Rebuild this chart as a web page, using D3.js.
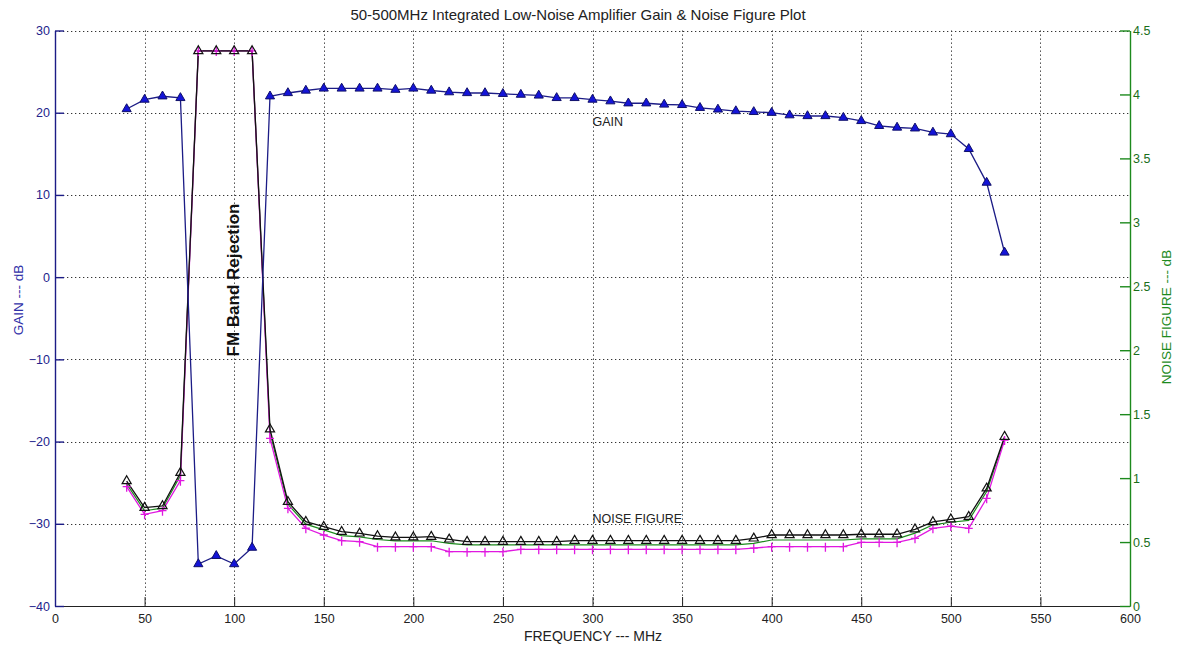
<!DOCTYPE html>
<html>
<head>
<meta charset="utf-8">
<script src="https://cdn.jsdelivr.net/npm/d3@7"></script>
<style>
  html, body { margin: 0; padding: 0; background: #fff; }
  svg { display: block; font-family: "Liberation Sans", Arial, sans-serif; }
</style>
</head>
<body>
<svg id="chart" width="1180" height="649"></svg>
<script>
// ---- data ----
const freqMHz = [40, 50, 60, 70, 80, 90, 100, 110, 120, 130, 140, 150, 160, 170, 180, 190, 200, 210, 220, 230,
  240, 250, 260, 270, 280, 290, 300, 310, 320, 330, 340, 350, 360, 370, 380, 390, 400, 410, 420, 430,
  440, 450, 460, 470, 480, 490, 500, 510, 520, 530];

const gainDb = [20.45, 21.6, 22.0, 21.8, -34.9, -33.9, -34.9, -32.9, 22.0, 22.4, 22.7, 22.95, 22.95, 22.95, 22.95, 22.8, 22.95, 22.7, 22.5, 22.4,
  22.4, 22.3, 22.2, 22.1, 21.8, 21.8, 21.6, 21.4, 21.15, 21.15, 21.0, 20.95, 20.6, 20.4, 20.2, 20.1, 20.0, 19.7, 19.6, 19.6,
  19.4, 19.0, 18.4, 18.2, 18.1, 17.6, 17.4, 15.6, 11.5, 3.0];

const nfBlack = [0.977, 0.769, 0.782, 1.042, 4.34, 4.34, 4.34, 4.34, 1.382, 0.815, 0.659, 0.620, 0.581, 0.568, 0.547, 0.537, 0.537, 0.542, 0.521, 0.503,
  0.503, 0.503, 0.503, 0.503, 0.503, 0.511, 0.511, 0.511, 0.511, 0.511, 0.511, 0.511, 0.511, 0.511, 0.511, 0.529, 0.555, 0.555, 0.555, 0.555,
  0.555, 0.561, 0.561, 0.561, 0.600, 0.657, 0.678, 0.698, 0.920, 1.324];

const nfGreen = [0.955, 0.745, 0.765, 1.02, 4.34, 4.34, 4.34, 4.34, 1.355, 0.795, 0.64, 0.595, 0.55, 0.54, 0.52, 0.51, 0.51, 0.51, 0.49, 0.478,
  0.478, 0.478, 0.478, 0.478, 0.478, 0.478, 0.478, 0.478, 0.478, 0.478, 0.478, 0.478, 0.478, 0.478, 0.478, 0.49, 0.516, 0.516, 0.516, 0.516,
  0.516, 0.525, 0.525, 0.525, 0.57, 0.635, 0.655, 0.67, 0.895, 1.31];

const nfMagenta = [0.933, 0.717, 0.745, 0.980, 4.34, 4.34, 4.34, 4.34, 1.311, 0.764, 0.608, 0.555, 0.511, 0.503, 0.464, 0.464, 0.464, 0.464, 0.425, 0.425,
  0.425, 0.425, 0.443, 0.443, 0.443, 0.443, 0.443, 0.443, 0.443, 0.443, 0.443, 0.443, 0.443, 0.443, 0.443, 0.453, 0.464, 0.464, 0.464, 0.464,
  0.464, 0.498, 0.498, 0.498, 0.529, 0.607, 0.625, 0.607, 0.842, 1.298];

const xTicks = [0, 50, 100, 150, 200, 250, 300, 350, 400, 450, 500, 550, 600];
const gainTicks = [-40, -30, -20, -10, 0, 10, 20, 30];
const nfTicks = [0, 0.5, 1, 1.5, 2, 2.5, 3, 3.5, 4, 4.5];

const titleText = "50-500MHz Integrated Low-Noise Amplifier Gain & Noise Figure Plot";
const xLabel = "FREQUENCY --- MHz";
const yLeftLabel = "GAIN --- dB";
const yRightLabel = "NOISE FIGURE --- dB";
const gainNote = "GAIN";
const nfNote = "NOISE FIGURE";
const fmNote = "FM Band Rejection";

// ---- layout ----
const L = 55, R = 1130, T = 30.5, B = 606;
const svg = d3.select("#chart");

const x = d3.scaleLinear().domain([0, 600]).range([L, R]);
const yL = d3.scaleLinear().domain([-40, 30]).range([B, T]);
const yR = d3.scaleLinear().domain([0, 4.5]).range([B, T]);

const cBlue = "#1c1c86", cBlueFill = "#1414d8", cGreen = "#1d8a1d", cMag = "#e018e0";

// grid
const grid = svg.append("g").attr("stroke", "#333").attr("stroke-width", 1)
  .attr("stroke-dasharray", "1.3,2.7");
xTicks.filter(t => t > 0 && t < 600).forEach(t => {
  grid.append("line").attr("x1", Math.round(x(t)) + 0.5).attr("x2", Math.round(x(t)) + 0.5)
    .attr("y1", T).attr("y2", B);
});
gainTicks.filter(t => t > -40).forEach(t => {
  grid.append("line").attr("x1", L).attr("x2", R)
    .attr("y1", Math.round(yL(t)) + 0.5).attr("y2", Math.round(yL(t)) + 0.5);
});

// axes
const axB = svg.append("g").attr("transform", `translate(0,${B})`)
  .call(d3.axisBottom(x).tickValues(xTicks).tickSizeInner(-9).tickSizeOuter(0).tickPadding(8));
axB.selectAll("path,line").attr("stroke", "#222");
axB.selectAll("text").attr("fill", "#222").attr("font-size", 12.5).attr("font-family", "Liberation Sans, Arial, sans-serif");

const axL = svg.append("g").attr("transform", `translate(${L},0)`)
  .call(d3.axisLeft(yL).tickValues(gainTicks).tickSizeInner(-9).tickSizeOuter(0).tickPadding(5));
axL.selectAll("path,line").attr("stroke", cBlue).attr("stroke-width", 1.4);
axL.selectAll("text").attr("fill", "#23238c").attr("font-size", 12.5).attr("font-family", "Liberation Sans, Arial, sans-serif");

const axR = svg.append("g").attr("transform", `translate(${R},0)`)
  .call(d3.axisRight(yR).tickValues(nfTicks).tickSizeInner(-10).tickSizeOuter(0).tickPadding(3)
    .tickFormat(d => String(d)));
axR.selectAll("path,line").attr("stroke", cGreen).attr("stroke-width", 1.4);
axR.selectAll("text").attr("fill", "#1a6e1a").attr("font-size", 12.5).attr("font-family", "Liberation Sans, Arial, sans-serif");

// series
const gainPts = freqMHz.map((f, i) => [x(f), yL(gainDb[i])]);
const blackPts = freqMHz.map((f, i) => [x(f), yR(nfBlack[i])]);
const greenPts = freqMHz.map((f, i) => [x(f), yR(nfGreen[i])]);
const magPts = freqMHz.map((f, i) => [x(f), yR(nfMagenta[i])]);
const line = d3.line();

svg.append("path").attr("d", line(greenPts)).attr("fill", "none").attr("stroke", cGreen).attr("stroke-width", 1.2);
svg.append("path").attr("d", line(magPts)).attr("fill", "none").attr("stroke", cMag).attr("stroke-width", 1.3);
svg.append("path").attr("d", line(blackPts)).attr("fill", "none").attr("stroke", "#111").attr("stroke-width", 1.3);
svg.append("path").attr("d", line(gainPts)).attr("fill", "none").attr("stroke", cBlue).attr("stroke-width", 1.3);

const tri = d3.symbol().type(d3.symbolTriangle).size(36);

// magenta plus markers
svg.append("g").selectAll("path").data(magPts).join("path")
  .attr("d", d => `M${d[0] - 4},${d[1]}H${d[0] + 4}M${d[0]},${d[1] - 4}V${d[1] + 5}`)
  .attr("stroke", cMag).attr("stroke-width", 1.3).attr("fill", "none");

// black open triangles
svg.append("g").selectAll("path").data(blackPts).join("path")
  .attr("transform", d => `translate(${d[0]},${d[1]})`)
  .attr("d", tri).attr("fill", "none").attr("stroke", "#111").attr("stroke-width", 1.2);

// gain filled triangles
svg.append("g").selectAll("path").data(gainPts).join("path")
  .attr("transform", d => `translate(${d[0]},${d[1]})`)
  .attr("d", tri).attr("fill", cBlueFill).attr("stroke", "#10106a").attr("stroke-width", 1);

// texts
svg.append("text").attr("x", 578).attr("y", 20).attr("text-anchor", "middle")
  .attr("font-size", 15).attr("fill", "#222").text(titleText);
svg.append("text").attr("x", 593).attr("y", 641).attr("text-anchor", "middle")
  .attr("font-size", 14).attr("fill", "#222").text(xLabel);
svg.append("text").attr("transform", "translate(23,300) rotate(-90)").attr("text-anchor", "middle")
  .attr("font-size", 13.5).attr("fill", "#3030a8").text(yLeftLabel);
svg.append("text").attr("transform", "translate(1171,317) rotate(-90)").attr("text-anchor", "middle")
  .attr("font-size", 13.5).attr("fill", "#1d8a1d").text(yRightLabel);
svg.append("text").attr("x", x(300)).attr("y", 126).attr("font-size", 12.5).attr("fill", "#222").text(gainNote);
svg.append("text").attr("x", x(300)).attr("y", 523).attr("font-size", 12.5).attr("fill", "#222").text(nfNote);
svg.append("text").attr("transform", `translate(${x(100) + 5},280) rotate(-90)`).attr("text-anchor", "middle")
  .attr("font-size", 17).attr("font-weight", "bold").attr("fill", "#111").text(fmNote);
</script>
</body>
</html>
